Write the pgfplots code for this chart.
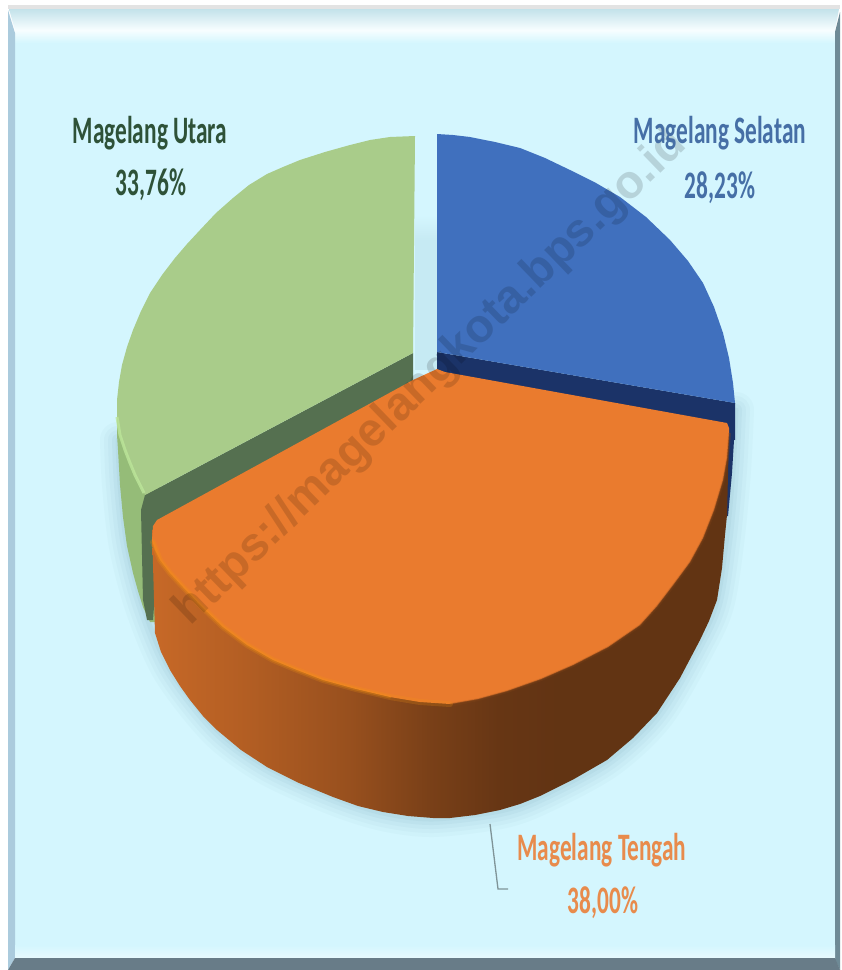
\documentclass[border=0pt]{standalone}
\usepackage{pgfplots}
\pgfplotsset{compat=1.18}
\usepackage{graphicx}
\usepackage{fontspec}
\setmainfont{Carlito}
\newfontfamily\wmfont{Liberation Sans}
\definecolor{bgc}{HTML}{D4F6FE}
\definecolor{blueTop}{HTML}{4070BE}
\definecolor{blueDark}{HTML}{1B3368}
\definecolor{greenTop}{HTML}{A9CC8A}
\definecolor{greenSide}{HTML}{95BC78}
\definecolor{greenWall}{HTML}{557050}
\definecolor{greenHi}{HTML}{BCE69A}
\definecolor{orangeTop}{HTML}{EA7B2E}
\definecolor{greenText}{HTML}{2E5238}
\definecolor{blueText}{HTML}{466FA6}
\definecolor{orangeText}{HTML}{E88B4C}
\definecolor{shad}{HTML}{4A7F92}
\pgfdeclarehorizontalshading{orangeside}{100bp}{
 color(0bp)=(orangeTop!85!black);
 color(25bp)=(orangeTop!85!black);
 color(33.5bp)=(orangeTop!76!black);
 color(42bp)=(orangeTop!65!black);
 color(49bp)=(orangeTop!52!black);
 color(55bp)=(orangeTop!44!black);
 color(60bp)=(orangeTop!42!black);
 color(100bp)=(orangeTop!42!black)}
\newcommand{\lab}[3]{\scalebox{#1}[1]{\fontsize{39}{39}\selectfont\bfseries\color{#2}#3}}
\pgfplotstableread{
x y
118 440
120 485
127 546
143 607
170 670
217 730
267 767
333 797
383 813
433 819
500 811
540 797
607 761
657 714
700 641
717 601
727 535
733 470
736 410
}\shadowpts
\begin{document}
\begin{tikzpicture}
\begin{axis}[width=841bp,height=970bp,scale only axis,hide axis,clip=false,
 xmin=0,xmax=841,ymin=0,ymax=970,y dir=reverse,
 every axis plot/.append style={no markers,forget plot,draw=none}]
% page and frame
\addplot[fill=white] coordinates {(0,0)(841,0)(841,970)(0,970)} --cycle;
\addplot[fill=bgc] coordinates {(15,30)(835,30)(835,958)(15,958)} --cycle;
\addplot[fill=black!11] coordinates {(8,5)(840,5)(840,9)(8,9)} --cycle;
\addplot[shade,top color=bgc!92!black,bottom color=bgc!18!white] coordinates {(9,9)(839,9)(835,30)(15,30)} --cycle;
\addplot[shade,top color=bgc!18!white,bottom color=bgc] coordinates {(15,30)(835,30)(835,43)(15,43)} --cycle;
\addplot[fill=white] coordinates {(0,0)(8,0)(8,970)(0,970)} --cycle;
\definecolor{lb}{HTML}{ABCBDD}
\definecolor{rb}{HTML}{6E8A96}
\definecolor{bb}{HTML}{687C88}
\addplot[fill=lb] coordinates {(8,10)(15,33)(15,958)(8,970)} --cycle;
\addplot[fill=rb] coordinates {(840,12)(835,32)(835,960)(840,970)} --cycle;
\addplot[shade,top color=bgc,bottom color=bgc!55!white] coordinates {(15,945)(835,945)(835,958)(15,958)} --cycle;
\addplot[fill=bb] coordinates {(8,970)(15,958)(835,958)(840,970)} --cycle;
% soft shadows
\addplot[smooth,draw=shad,line width=36bp,opacity=.03,line cap=round,line join=round] table {\shadowpts};
\addplot[smooth,draw=shad,line width=28bp,opacity=.035,line cap=round,line join=round] table {\shadowpts};
\addplot[smooth,draw=shad,line width=20bp,opacity=.04,line cap=round,line join=round] table {\shadowpts};
\addplot[smooth,draw=shad,line width=12bp,opacity=.05,line cap=round,line join=round] table {\shadowpts};
\addplot[smooth,draw=shad,line width=5bp,opacity=.06,line cap=round,line join=round] table {\shadowpts};
\addplot[shade,top color=bgc,bottom color=bgc!90!shad] coordinates {(415,215)(437,215)(437,240)(415,240)} --cycle;
\addplot[fill=bgc!90!shad] coordinates {(415,240)(437,240)(437,370)(415,370)} --cycle;
% green slice
\addplot[fill=greenSide] coordinates {(117,417)(117,435)(118,450)(120,485)(123,517)(127,546)(133,573)(138,591)(143,607)(150,622)(160,622)(160,480)(143,480)} --cycle;
\addplot[fill=greenWall] coordinates {(413,353)(413,385)(160,530)(153,620)(147,620)(143,600)(141,510)(145,495)} --cycle;
\addplot[fill=greenTop] coordinates {(415,136)(390,137)(370,140)(350,145)(325,152)(300,160)(283,167)(267,174)(249,185)(233,198)(216,213)(200,230)(187,244)(175,258)(162,275)(150,293)(141,311)(133,330)(127,347)(122,365)(119,382)(117,400)(117,417)(120,435)(125,450)(130,463)(135,475)(145,495)(413,353)} --cycle;
\addplot[draw=greenHi,line width=3bp,opacity=.8] coordinates {(117,417)(120,435)(125,450)(130,463)(135,475)(144,493)};
% blue slice
\addplot[fill=blueDark] coordinates {(735,403)(734,440)(732,473)(728,516)(715,516)(715,403)} --cycle;
\addplot[fill=blueDark] coordinates {(437,352)(735,403)(735,440)(437,380)} --cycle;
\addplot[fill=blueTop] coordinates {(437,134)(453,135)(470,137)(495,142)(520,148)(545,158)(570,170)(596,183)(620,197)(646,217)(670,240)(688,261)(703,283)(714,307)(723,333)(729,358)(733,383)(735,403)(437,352)} --cycle;
% orange slice
\addplot[shading=orangeside] coordinates {(152,530)(155,633)(161,652)(170,670)(180,686)(190,700)(203,716)(217,730)(241,750)(267,767)(299,783)(333,797)(358,806)(383,812)(408,816)(433,818)(450,818)(475,815)(500,810)(520,804)(540,796)(574,779)(607,760)(633,738)(657,713)(680,678)(700,640)(709,621)(717,600)(722,568)(725,535)(727,515)(729,433)(440,500)} --cycle;
\addplot[draw=orangeTop!55!black,line width=4bp,opacity=.3] coordinates {(729,433)(727,458)(723,480)(714,510)(703,538)(690,562)(673,585)(657,606)(640,625)(608,647)(573,665)(541,679)(507,691)(478,699)(450,705)};
\addplot[fill=orangeTop] coordinates {(437,369)(445,372)(727,423)(729,428)(729,433)(727,458)(723,480)(714,510)(703,538)(690,562)(673,585)(657,606)(640,625)(608,647)(573,665)(541,679)(507,691)(478,699)(450,704)(420,702)(390,697)(356,689)(323,680)(297,670)(273,660)(247,645)(223,627)(202,607)(183,587)(170,573)(160,560)(155,550)(152,540)(153,526)(157,520)(413,380)} --cycle;
\addplot[draw=orangeTop!70!black,line width=1.5bp,opacity=.35] coordinates {(729,433)(727,458)(723,480)(714,510)(703,538)(690,562)(673,585)(657,606)(640,625)(608,647)(573,665)(541,679)(507,691)(478,699)(450,704)};
\addplot[draw=orange!70!yellow!60!orangeTop,line width=6bp,opacity=.2,line cap=round] coordinates {(153,542)(160,560)(170,573)(183,587)(202,607)(223,627)(247,645)(273,660)(297,670)(323,680)(356,689)(390,697)(420,702)(450,704)};
\addplot[draw=orange!70!yellow!60!orangeTop,line width=3bp,opacity=.3,line cap=round] coordinates {(153,542)(160,560)(170,573)(183,587)(202,607)(223,627)(247,645)(273,660)(297,670)(323,680)(356,689)(390,697)};
% leader
\addplot[draw=black!40!bgc,line width=1.3bp] coordinates {(490,824)(498,889)(508,889)};
% watermark
\node[rotate=44,text opacity=.14,text=black] at (axis cs:431,378) {\fontsize{47}{47}\selectfont\wmfont\bfseries https://magelangkota.bps.go.id};
% labels
\node[anchor=base] at (axis cs:150,143) {\lab{.6}{greenText}{Magelang Utara}};
\node[anchor=base] at (axis cs:151,195) {\lab{.6}{greenText}{33,76\%}};
\node[anchor=base] at (axis cs:720,143) {\lab{.6}{blueText}{Magelang Selatan}};
\node[anchor=base] at (axis cs:720,198) {\lab{.6}{blueText}{28,23\%}};
\node[anchor=base] at (axis cs:602,860) {\lab{.6}{orangeText}{Magelang Tengah}};
\node[anchor=base] at (axis cs:603,913) {\lab{.6}{orangeText}{38,00\%}};
\end{axis}
\end{tikzpicture}
\end{document}
